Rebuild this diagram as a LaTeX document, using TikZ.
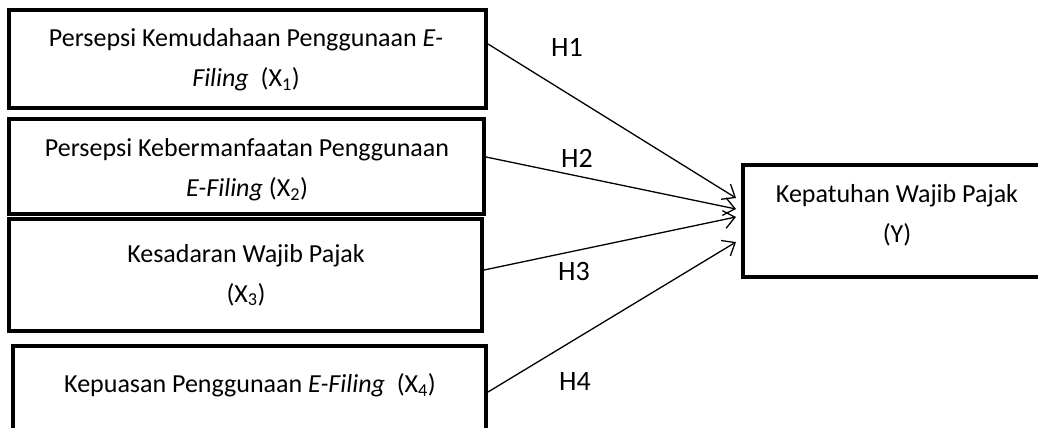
\documentclass[tikz,border=0pt]{standalone}
\usepackage{fontspec}
\setmainfont{Carlito}
\usetikzlibrary{arrows.meta}
\begin{document}
\begin{tikzpicture}[x=1pt,y=1pt,
  box/.style={draw=black, line width=4pt, minimum width=#1, inner sep=0pt},
  txt/.style={font=\fontsize{26}{40}\selectfont, align=center, inner sep=0pt},
  hyp/.style={font=\fontsize{28}{32}\selectfont, inner sep=0pt},
  conn/.style={line width=1.3pt, -{Straight Barb[length=11pt,width=18pt,line width=1.3pt]}},
  border/.style={line width=4pt, line join=miter}
]
\useasboundingbox (0,0) rectangle (1038,-428);
\clip (0,0) rectangle (1038,-428);
% boxes
\node[box=477pt, minimum height=98pt] (b1) at (247.5,-59) {};
\node[box=475pt, minimum height=95pt] (b2) at (246.5,-166.5) {};
\node[box=473pt, minimum height=112pt] (b3) at (245.5,-275) {};
\node[box=473pt, minimum height=100pt] (b4) at (249.5,-396) {};
\node[minimum width=300pt, minimum height=108pt, inner sep=0pt, outer sep=2pt] (y) at (895,-221) {};
\draw[border] ([xshift=60pt]y.north east) -- (y.north west) -- (y.south west) -- ([xshift=60pt]y.south east);
% texts
\node[txt] (t1) at (246,-60) {Persepsi Kemudahaan Penggunaan \textit{E-}\\\textit{Filing}\ \ (X\textsubscript{1})};
\node[txt] (t2) at (247,-170) {Persepsi Kebermanfaatan Penggunaan\\\textit{E-Filing} (X\textsubscript{2})};
\node[txt] (t3) at (246,-275) {Kesadaran Wajib Pajak\\(X\textsubscript{3})};
\node[txt] (t4) at (250,-385) {Kepuasan Penggunaan \textit{E-Filing}\ \ (X\textsubscript{4})};
\node[txt] (ty) at (897,-215) {Kepatuhan Wajib Pajak\\(Y)};
% connectors
\draw[conn] ([yshift=15pt]b1.east) -- ([xshift=-7pt,yshift=23pt]y.west);
\draw[conn] ([yshift=9.5pt]b2.east) -- ([xshift=-7pt,yshift=12pt]y.west);
\draw[conn] ([yshift=5pt]b3.east) -- ([xshift=-7pt,yshift=4pt]y.west);
\draw[conn] ([yshift=4pt]b4.east) -- ([xshift=-7pt,yshift=-21pt]y.west);
% labels
\node[hyp] (h1) at (567,-47) {H1};
\node[hyp] (h2) at (577,-158) {H2};
\node[hyp] (h3) at (574,-272) {H3};
\node[hyp] (h4) at (575,-382) {H4};
\end{tikzpicture}
\end{document}
